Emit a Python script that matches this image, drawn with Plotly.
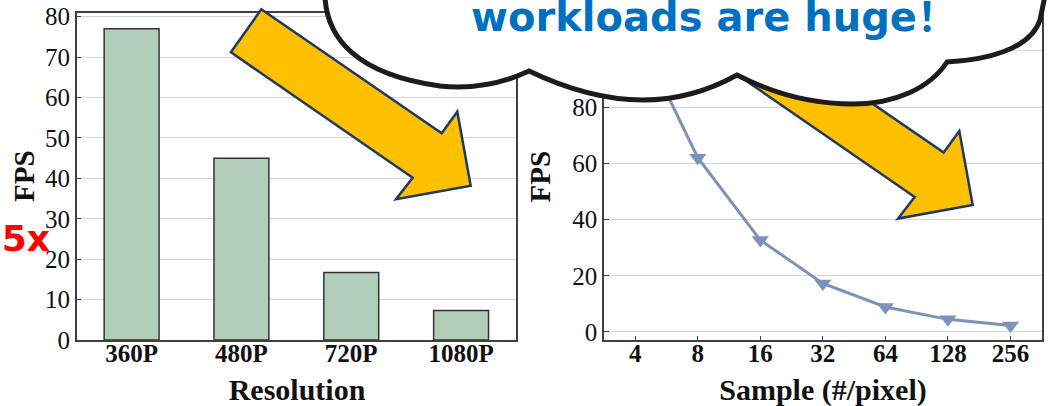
import plotly.graph_objects as go

# ---------------- data ----------------
resolutions = ["360P", "480P", "720P", "1080P"]
fps_by_resolution = [77, 45, 16.7, 7.3]

samples = ["4", "8", "16", "32", "64", "128", "256"]
fps_by_sample = [108, 62, 32.7, 17.3, 8.9, 4.5, 2.3]

left_yticks = [0, 10, 20, 30, 40, 50, 60, 70, 80]
right_yticks = [0, 20, 40, 60, 80, 100]

# ---------------- geometry helpers ----------------
W, H = 1055, 406


def px(x):
    return x / W


def py(y):
    return 1 - y / H


def path_from(segments):
    out = []
    for cmd, pts in segments:
        coords = " ".join(f"{px(x):.5f},{py(y):.5f}" for x, y in pts)
        out.append(f"{cmd}{coords}")
    return " ".join(out) + " Z"


SERIF = "Liberation Serif, Times New Roman, serif"
AX = "#3f3f3f"
GRID = "#d6d6d6"

fig = go.Figure()

fig.add_trace(go.Bar(
    x=resolutions, y=fps_by_resolution, width=0.5,
    marker=dict(color="#b3cdbb", line=dict(color="#333333", width=1.5)),
    xaxis="x", yaxis="y", showlegend=False,
))

fig.add_trace(go.Scatter(
    x=samples, y=fps_by_sample, mode="lines+markers",
    line=dict(color="#7d92b9", width=3),
    marker=dict(symbol="triangle-down", size=15, color="#7d92b9"),
    xaxis="x2", yaxis="y2", showlegend=False,
))

axis_common = dict(showline=True, mirror=True, linecolor=AX, linewidth=1.5,
                   zeroline=False, automargin=False)

fig.update_layout(
    width=W, height=H,
    margin=dict(l=0, r=0, t=0, b=0, pad=0, autoexpand=False),
    paper_bgcolor="white", plot_bgcolor="white",
    showlegend=False,
    xaxis=dict(domain=[px(76.7), px(516)], range=[-0.5, 3.5], type="category",
               anchor="y", showgrid=False, ticks="", ticklabelstandoff=-10,
               tickfont=dict(family=SERIF, size=25, color="#111", weight="bold"),
               **axis_common),
    yaxis=dict(domain=[py(340), py(12.7)], range=[0, 81], anchor="x",
               tickvals=left_yticks, ticks="inside", ticklen=5, tickcolor=AX,
               showgrid=True, gridcolor=GRID, gridwidth=1,
               tickfont=dict(family=SERIF, size=25, color="#111"),
               **axis_common),
    xaxis2=dict(domain=[px(604), px(1041.7)], range=[-0.5, 6.5], type="category",
                anchor="y2", showgrid=False, ticks="inside", ticklen=4, tickcolor=AX,
                ticklabelstandoff=-10,
                tickfont=dict(family=SERIF, size=25, color="#111", weight="bold"),
                **axis_common),
    yaxis2=dict(domain=[py(340), py(13.6)], range=[-2.85, 113.3], anchor="x2",
                tickvals=right_yticks, ticks="inside", ticklen=5, tickcolor=AX,
                showgrid=True, gridcolor=GRID, gridwidth=1,
                tickfont=dict(family=SERIF, size=25, color="#111"),
                **axis_common),
)

# ---------------- decorations: arrows + cloud ----------------
arrow_left = [(261.3, 9.3), (441.7, 133.3), (457.3, 111.7), (470.7, 185.7),
              (396, 199.3), (412.7, 177.7), (230.9, 52.3)]
dx, dy = 502, 19.3
arrow_right = [(x + dx, y + dy) for x, y in arrow_left]

shapes = []
for poly in (arrow_left, arrow_right):
    shapes.append(dict(
        type="path", xref="paper", yref="paper", layer="above",
        path=path_from([("M", [poly[0]])] + [("L", [p]) for p in poly[1:]]),
        fillcolor="#ffc000", line=dict(color="#1f3864", width=2.5),
    ))

cloud = [
    ("M", [(325, -14)]),
    ("C", [(322, 40), (360, 75), (440, 86)]),
    ("C", [(480, 90), (510, 80), (529, 71)]),
    ("C", [(575, 93), (610, 100), (643, 100)]),
    ("C", [(680, 100), (710, 90), (737, 75)]),
    ("C", [(770, 92), (810, 104), (853, 104)]),
    ("C", [(895, 104), (930, 88), (947, 62)]),
    ("C", [(985, 60), (1030, 50), (1040, 20)]),
    ("L", [(1047, -14)]),
    ("L", [(1047, -80)]),
    ("L", [(325, -80)]),
]
shapes.append(dict(
    type="path", xref="paper", yref="paper", layer="above",
    path=path_from(cloud), fillcolor="white",
    line=dict(color="#1c1c1c", width=5),
))


def text_label(text, cx, cy, size, color, family, xanchor="center"):
    """Invisible rect whose label carries free text (not clamped to the paper)."""
    return dict(
        type="rect", xref="paper", yref="paper", layer="above",
        x0=px(cx - 2), x1=px(cx + 2), y0=py(cy + 2), y1=py(cy - 2),
        line=dict(width=0), fillcolor="rgba(0,0,0,0)",
        label=dict(text=f"<b>{text}</b>", textposition="middle center",
                   xanchor=xanchor, yanchor="middle", padding=0,
                   font=dict(family=family, size=size, color=color)),
    )


shapes.append(text_label("workloads are huge！", 714, 13.5, 40, "#0070c0",
                         "DejaVu Sans, Noto Sans CJK SC"))
shapes.append(text_label(".5x", 50, 235.5, 36, "#ff0000", "DejaVu Sans", xanchor="right"))
shapes.append(text_label("Resolution", 297, 386.5, 30, "#111", SERIF))
shapes.append(text_label("Sample (#/pixel)", 823, 386.5, 30, "#111", SERIF))
fig.update_layout(shapes=shapes)

# ---------------- rotated axis titles ----------------
ann = [
    dict(text="FPS", x=px(24), y=py(176), xanchor="center", yanchor="middle", textangle=-90,
         font=dict(family=SERIF, size=29, color="#111", weight="bold")),
    dict(text="FPS", x=px(539.5), y=py(177), xanchor="center", yanchor="middle", textangle=-90,
         font=dict(family=SERIF, size=29, color="#111", weight="bold")),
]
for a in ann:
    a.update(xref="paper", yref="paper", showarrow=False)
fig.update_layout(annotations=ann)

fig.write_html(
    "out.html",
    config={"displayModeBar": False},
    post_script="document.body.style.margin='0';document.body.style.overflow='hidden';",
)
